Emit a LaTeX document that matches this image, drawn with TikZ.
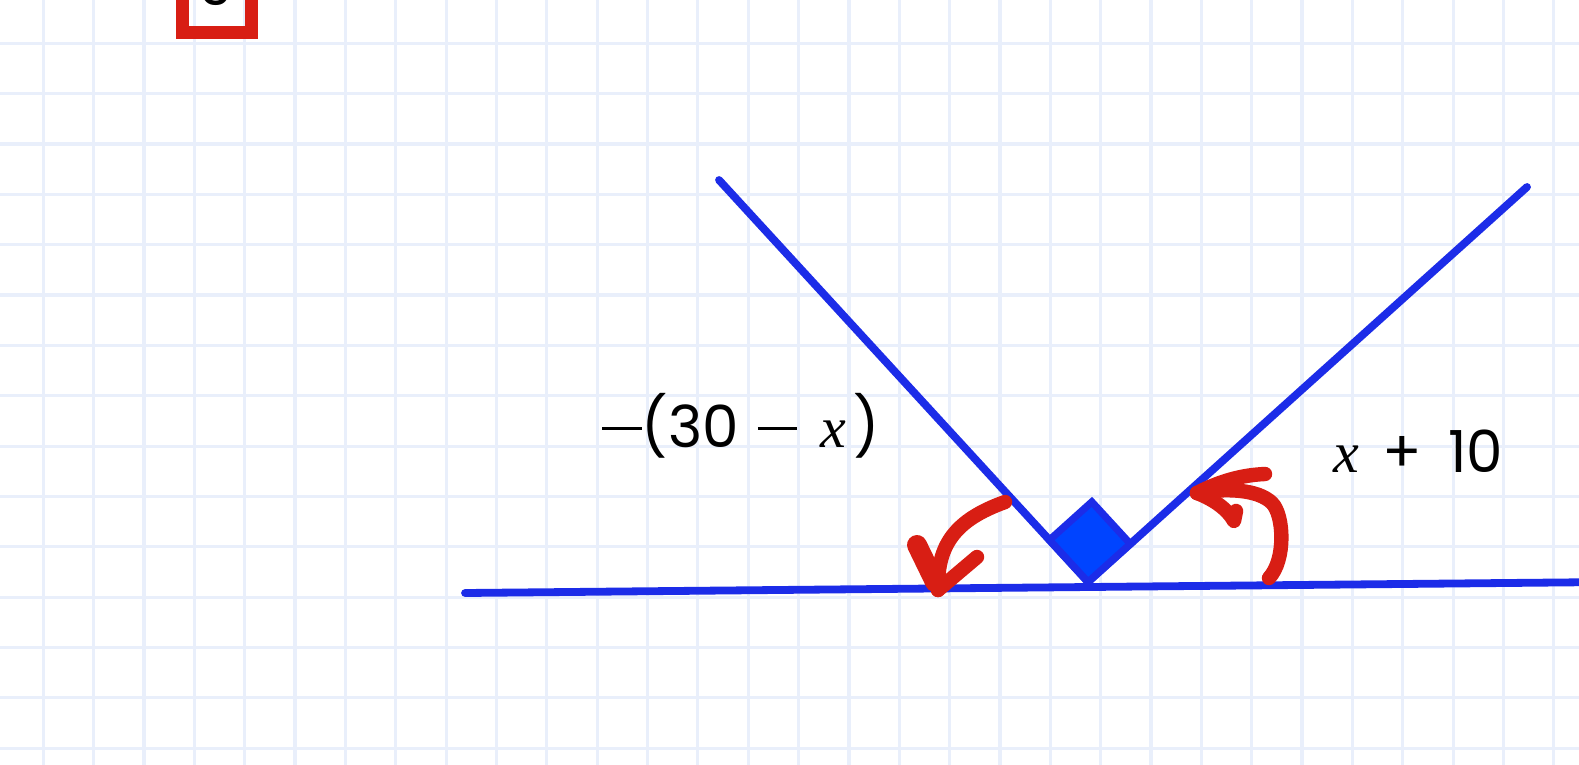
\documentclass[tikz,border=0pt]{standalone}
\usepackage{fontspec}
\setmainfont{Liberation Serif}
\setsansfont{Poppins}
\usetikzlibrary{calc}
\definecolor{gridc}{RGB}{233,239,251}
\definecolor{lineblue}{RGB}{28,44,232}
\definecolor{fillblue}{RGB}{0,68,255}
\definecolor{penred}{RGB}{216,30,20}
\newcommand{\mns}{\rule[0.3em]{0.68em}{0.045em}}
\tikzset{
  gridline/.style={gridc, line width=1.6pt},
  blueline/.style={lineblue, line width=3.9pt, line cap=round},
  pen/.style={penred, line width=7.2pt, line cap=round, line join=round},
  lbl/.style={inner sep=0pt, anchor=base west, font=\fontsize{29}{35}\selectfont\sffamily}
}
\begin{document}
\begin{tikzpicture}[x=0.5pt,y=-0.5pt]
\useasboundingbox (0,0) rectangle (1579,765);
\clip (0,0) rectangle (1579,765);
\fill[white] (0,0) rectangle (1579,765);
% grid
\foreach \i in {0,...,31} {
  \draw[gridline] ({43.3+50.35*\i},0) -- ({43.3+50.35*\i},765);
}
\foreach \j in {0,...,15} {
  \draw[gridline] (0,{43.3+50.35*\j}) -- (1579,{43.3+50.35*\j});
}
% red box at top left
\node[inner sep=0pt, anchor=base, font=\fontsize{29}{35}\selectfont\sffamily] (nine) at (216,6) {9};
\draw[penred, line width=6.5pt] (182.5,-60) rectangle (251.5,32.5);
% geometry
\coordinate (V) at (1088,582);
\coordinate (L) at (719,180);
\coordinate (R) at (1527,187);
\coordinate (B1) at (465,593);
\coordinate (B2) at (1610,582);
\draw[blueline] (B1) -- (B2);
\draw[blueline] (L) -- (V) -- (R);
% right-angle marker
\coordinate (SA) at ($(V)!28.5pt!(L)$);
\coordinate (SB) at ($(V)!28.5pt!(R)$);
\coordinate (ST) at ($(SA)+(SB)-(V)$);
\draw[lineblue, fill=fillblue, line width=3.6pt, line join=miter] (V) -- (SA) -- (ST) -- (SB) -- cycle;
% labels
\node[lbl] (lab1) at (602,447) {\mns(30\hspace{0.33em}\mns\hspace{0.4em}{\rmfamily\itshape x}\hspace{0.12em})};
\node[lbl] (lab2) at (1333,472) {{\rmfamily\itshape x}\hspace{0.4em}+\hspace{0.45em}10};
% red arrows
\coordinate (LA0) at (1005,502);
\coordinate (LAt) at (938,590);
\coordinate (LAb1) at (917,545);
\coordinate (LAb2) at (977,557);
\draw[pen] (LA0) .. controls (955,520) and (937,545) .. (LAt);
\draw[pen, line width=10pt] (LAb1) -- ($(LAt)+(-3,-8)$);
\draw[pen] (LAt) -- (LAb2);
\coordinate (RA0) at (1269,578);
\coordinate (RAt) at (1197,493);
\coordinate (RAb1) at (1265,474);
\coordinate (RAb2) at (1234,521);
\coordinate (RAh) at (1236,511);
\draw[pen] (RA0) .. controls (1286,560) and (1284,515) .. (1272,503) .. controls (1258,489) and (1225,488) .. (RAt);
\draw[pen] (RAt) .. controls (1220,481) and (1242,475) .. (RAb1);
\draw[pen] (RAt) .. controls (1215,500) and (1228,510) .. (RAb2) -- (RAh);
\end{tikzpicture}
\end{document}
